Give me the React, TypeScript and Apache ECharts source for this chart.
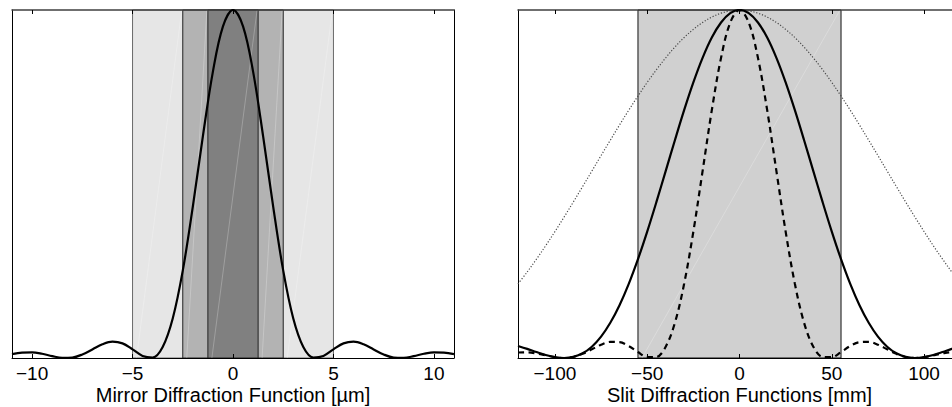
import React, { useEffect, useRef } from "react";
import * as echarts from "echarts";

// ---------- data ----------
const leftTicks = [-10, -5, 0, 5, 10];
const rightTicks = [-100, -50, 0, 50, 100];

// nested shaded bands of the mirror panel [from, to]
const leftBands = [
  [-5, 5],
  [-2.5, 2.5],
  [-1.25, 1.25],
];
const leftBandColors = ["#e6e6e6", "#b3b3b3", "#808080"];
const leftBandBorders = ["#6a6a6a", "#222222", "#222222"];

const rightBands = [[-55, 55]];
const rightBandColors = ["#d0d0d0"];
const rightBandBorders = ["#111111"];

const mirrorX = [
  -11, -10.5, -10, -9.5, -9, -8.5, -8, -7.5, -7, -6.5, -6, -5.5, -5, -4.5, -4, -3.5, -3, -2.5, -2, -1.5, -1, -0.5,
  0, 0.5, 1, 1.5, 2, 2.5, 3, 3.5, 4, 4.5, 5, 5.5, 6, 6.5, 7, 7.5, 8, 8.5, 9, 9.5, 10, 10.5, 11,
];
const mirrorY = [
  0.0112, 0.0156, 0.0162, 0.0121, 0.0055, 0.0006, 0.0014, 0.0101, 0.0247, 0.0395, 0.0471, 0.0421, 0.0249, 0.0059,
  0.0014, 0.0316, 0.1135, 0.251, 0.435, 0.637, 0.823, 0.953, 1, 0.953, 0.823, 0.637, 0.435, 0.251, 0.1135, 0.0316,
  0.0014, 0.0059, 0.0249, 0.0421, 0.0471, 0.0395, 0.0247, 0.0101, 0.0014, 0.0006, 0.0055, 0.0121, 0.0162, 0.0156,
  0.0112,
];

const slitX = [
  -120, -115, -110, -105, -100, -95, -90, -85, -80, -75, -70, -65, -60, -55, -50, -45, -40, -35, -30, -25, -20, -15,
  -10, -5, 0, 5, 10, 15, 20, 25, 30, 35, 40, 45, 50, 55, 60, 65, 70, 75, 80, 85, 90, 95, 100, 105, 110, 115, 120,
];
const slitSolid = [
  0.0344, 0.0261, 0.0171, 0.0087, 0.0025, 0, 0.0031, 0.0134, 0.0324, 0.0614, 0.1011, 0.1517, 0.2131, 0.2841, 0.3633,
  0.4485, 0.537, 0.6258, 0.7121, 0.792, 0.8625, 0.9209, 0.9641, 0.9909, 1, 0.9909, 0.9641, 0.9209, 0.8625, 0.792,
  0.7121, 0.6258, 0.537, 0.4485, 0.3633, 0.2841, 0.2131, 0.1517, 0.1011, 0.0614, 0.0324, 0.0134, 0.0031, 0, 0.0025,
  0.0087, 0.0171, 0.0261, 0.0344,
];
const slitDashed = [
  0.0158, 0.0163, 0.0132, 0.0078, 0.0024, 0, 0.003, 0.0119, 0.025, 0.0382, 0.0463, 0.0454, 0.0344, 0.0171, 0.0025,
  0.0031, 0.0324, 0.1011, 0.2131, 0.3633, 0.537, 0.7121, 0.8625, 0.9641, 1, 0.9641, 0.8625, 0.7121, 0.537, 0.3633,
  0.2131, 0.1011, 0.0324, 0.0031, 0.0025, 0.0171, 0.0344, 0.0454, 0.0463, 0.0382, 0.025, 0.0119, 0.003, 0, 0.0024,
  0.0078, 0.0132, 0.0163, 0.0158,
];
const slitDotted = [
  0.2131, 0.2473, 0.2841, 0.3227, 0.3633, 0.4053, 0.4485, 0.4926, 0.537, 0.5817, 0.6258, 0.6696, 0.7121, 0.7528, 0.792,
  0.8285, 0.8625, 0.8934, 0.9209, 0.9443, 0.9641, 0.9797, 0.9909, 0.9977, 1, 0.9977, 0.9909, 0.9797, 0.9641, 0.9443,
  0.9209, 0.8934, 0.8625, 0.8285, 0.792, 0.7528, 0.7121, 0.6696, 0.6258, 0.5817, 0.537, 0.4926, 0.4485, 0.4053, 0.3633,
  0.3227, 0.2841, 0.2473, 0.2131,
];

const leftTitle = "Mirror Diffraction Function [\u00b5m]";
const rightTitle = "Slit Diffraction Functions [mm]";

// ---------- helpers ----------
const FONT = "'Liberation Sans', Arial, Helvetica, sans-serif";
const fmt = (v: number) => (v < 0 ? "\u2212" + Math.abs(v) : String(v));

function bandItems(bands: number[][], fills: string[], borders: string[]) {
  return bands.map((b, i) => [b[0], b[1], fills[i], borders[i]]);
}
// visible pieces of nested bands (for the faint render seams)
function seamPieces(bands: number[][]) {
  const out: number[][] = [];
  bands.forEach((b, i) => {
    const inner = bands[i + 1];
    if (inner) {
      out.push([b[0], inner[0]]);
      out.push([inner[1], b[1]]);
    } else out.push([b[0], b[1]]);
  });
  return out;
}

function bandSeries(gridIdx: number, items: any[]) {
  return {
    type: "custom",
    xAxisIndex: gridIdx * 2,
    yAxisIndex: gridIdx * 2,
    z: 1,
    silent: true,
    data: items,
    renderItem: (params: any, api: any) => {
      const p0 = api.coord([api.value(0), 1]);
      const p1 = api.coord([api.value(1), 0]);
      const d = items[params.dataIndex];
      return {
        type: "rect",
        shape: { x: p0[0], y: p0[1], width: p1[0] - p0[0], height: p1[1] - p0[1] },
        style: { fill: d[2], stroke: d[3], lineWidth: 1 },
      };
    },
  };
}
function seamSeries(gridIdx: number, pieces: number[][]) {
  return {
    type: "custom",
    xAxisIndex: gridIdx * 2,
    yAxisIndex: gridIdx * 2,
    z: 2,
    silent: true,
    data: pieces,
    renderItem: (params: any, api: any) => {
      const p0 = api.coord([api.value(0), 0]);
      const p1 = api.coord([api.value(1), 1]);
      return {
        type: "line",
        shape: { x1: p0[0] + 4, y1: p0[1], x2: p1[0] - 1, y2: p1[1] },
        style: { stroke: "rgba(255,255,255,0.35)", lineWidth: 0.7 },
      };
    },
  };
}

function xAxes(gridIdx: number, min: number, max: number, ticks: number[], title: string) {
  return [
    {
      gridIndex: gridIdx,
      type: "value",
      position: "bottom",
      min,
      max,
      z: 5,
      axisLine: { show: true, onZero: false, lineStyle: { color: "#000", width: 1 } },
      axisTick: { show: true, inside: true, length: 4, customValues: ticks, lineStyle: { color: "#000", width: 1 } },
      axisLabel: {
        show: true,
        customValues: ticks,
        formatter: fmt,
        color: "#000",
        fontSize: 19,
        fontFamily: FONT,
        margin: 6,
      },
      splitLine: { show: false },
      name: title,
      nameLocation: "middle",
      nameGap: 27,
      nameMoveOverlap: false,
      nameTextStyle: { color: "#000", fontSize: 20, fontFamily: FONT, verticalAlign: "top" },
    },
    {
      gridIndex: gridIdx,
      type: "value",
      position: "top",
      min,
      max,
      z: 5,
      axisLine: { show: true, onZero: false, lineStyle: { color: "#404040", width: 1.5 } },
      axisTick: { show: true, inside: true, length: 4, customValues: ticks, lineStyle: { color: "#000", width: 1 } },
      axisLabel: { show: false },
      splitLine: { show: false },
    },
  ];
}
function yAxes(gridIdx: number) {
  const base = {
    gridIndex: gridIdx,
    type: "value",
    min: 0,
    max: 1,
    z: 5,
    axisTick: { show: false },
    axisLabel: { show: false },
    splitLine: { show: false },
  };
  return [
    { ...base, position: "left", axisLine: { show: true, onZero: false, lineStyle: { color: "#000", width: 1 } } },
    { ...base, position: "right", axisLine: { show: true, onZero: false, lineStyle: { color: "#000", width: 1 } } },
  ];
}

function lineSeries(gridIdx: number, xs: number[], ys: number[], style: any, z = 10) {
  return {
    type: "line",
    xAxisIndex: gridIdx * 2,
    yAxisIndex: gridIdx * 2,
    data: xs.map((x, i) => [x, ys[i]]),
    showSymbol: false,
    smooth: 0.35,
    z,
    silent: true,
    lineStyle: style,
  };
}

export default function App() {
  const ref = useRef<HTMLDivElement>(null);
  useEffect(() => {
    if (!ref.current) return;
    const chart = echarts.init(ref.current, undefined, { renderer: "svg" });
    chart.setOption({
      animation: false,
      backgroundColor: "#ffffff",
      grid: [
        { left: 12, top: 10, width: 442, height: 348, containLabel: false, outerBoundsMode: "none" },
        { left: 518, top: 10, width: 443, height: 348, containLabel: false, outerBoundsMode: "none" },
      ],
      xAxis: [...xAxes(0, -11, 11, leftTicks, leftTitle), ...xAxes(1, -120, 120, rightTicks, rightTitle)],
      yAxis: [...yAxes(0), ...yAxes(1)],
      series: [
        bandSeries(0, bandItems(leftBands, leftBandColors, leftBandBorders)),
        seamSeries(0, seamPieces(leftBands)),
        lineSeries(0, mirrorX, mirrorY, { color: "#000", width: 2.2 }),
        bandSeries(1, bandItems(rightBands, rightBandColors, rightBandBorders)),
        seamSeries(1, seamPieces(rightBands)),
        lineSeries(1, slitX, slitDotted, { color: "#4a4a4a", width: 1.2, type: [1.2, 1.8] }, 8),
        lineSeries(1, slitX, slitDashed, { color: "#000", width: 2.2, type: [6, 4.5] }, 9),
        lineSeries(1, slitX, slitSolid, { color: "#000", width: 2.2 }, 10),
      ],
    });
    return () => chart.dispose();
  }, []);
  return (
    <div
      ref={ref}
      style={{ position: "absolute", left: 0, top: 0, width: 952, height: 407, background: "#fff" }}
    />
  );
}
